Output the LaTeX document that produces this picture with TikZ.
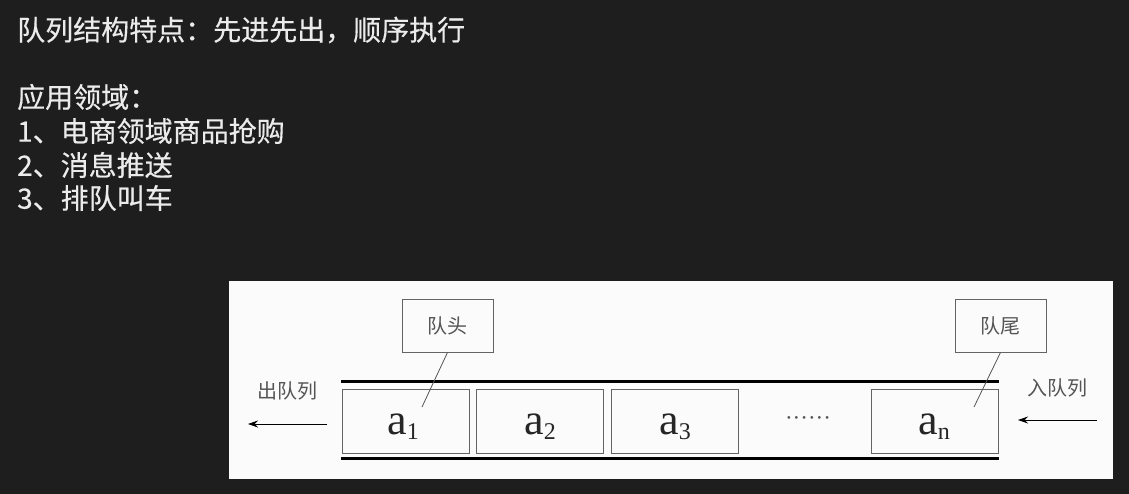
\documentclass[tikz,border=0pt]{standalone}
\usepackage{fontspec}
\newfontfamily\cjk{Noto Sans CJK SC}
\newfontfamily\cjkh[FakeBold=0.4]{Noto Sans CJK SC}
\newfontfamily\tms{Liberation Serif}
\usetikzlibrary{arrows.meta}
\definecolor{bgdark}{RGB}{30,30,30}
\definecolor{txtlight}{RGB}{235,235,235}
\definecolor{panel}{RGB}{251,251,251}
\definecolor{boxgray}{RGB}{100,100,100}
\definecolor{lblgray}{RGB}{85,85,85}
\tikzset{
  heading/.style={anchor=west,inner sep=0pt,text=txtlight,font=\cjkh\fontsize{28}{28}\selectfont},
  cell/.style={draw=boxgray,line width=1pt,minimum width=127pt,minimum height=64pt,inner sep=0pt},
  callout/.style={draw=boxgray,line width=0.9pt,minimum width=91pt,minimum height=53pt,inner sep=0pt,text=lblgray,font=\cjk\fontsize{20}{20}\selectfont},
  sidelbl/.style={inner sep=0pt,text=lblgray,font=\cjk\fontsize{20}{20}\selectfont},
  rail/.style={line width=3pt,black},
  leader/.style={draw=lblgray,line width=0.8pt},
  flow/.style={line width=0.9pt,black,-{Stealth[length=10pt,width=7pt]}},
  elem/.style={anchor=base,inner sep=0pt,text=black!85}
}
\newcommand{\elt}[1]{{\tms\fontsize{44}{44}\selectfont a}\raisebox{-5pt}{\tms\fontsize{24}{24}\selectfont #1}}
\begin{document}
\begin{tikzpicture}[x=1pt,y=-1pt]
\fill[bgdark] (0,0) rectangle (1129,494);
\useasboundingbox (0,0) rectangle (1129,494);
% heading text
\node[heading] (t1) at (17,30) {队列结构特点：先进先出，顺序执行};
\node[heading] (t2) at (17,97) {应用领域：};
\node[heading] (t3) at (17,131) {1、电商领域商品抢购};
\node[heading] (t4) at (17,165) {2、消息推送};
\node[heading] (t5) at (17,198) {3、排队叫车};
% panel
\fill[panel] (229,281) rectangle (1113,479);
% rails
\coordinate (rtl) at (341,381);
\coordinate (rtr) at (999,381);
\coordinate (rbl) at (341,458);
\coordinate (rbr) at (999,458);
\draw[rail] (rtl) -- (rtr);
\draw[rail] (rbl) -- (rbr);
% cells
\node[cell] (c1) at (405.5,421) {};
\node[cell] (c2) at (539.5,421) {};
\node[cell] (c3) at (674.5,421) {};
\node[cell] (cn) at (934.5,421) {};
\node[elem] (l1) at (403,434) {\elt{1}};
\node[elem] (l2) at (540,434) {\elt{2}};
\node[elem] (l3) at (675,434) {\elt{3}};
\node[elem] (ln) at (934,434) {\elt{n}};
\node[anchor=base,inner sep=0pt,text=lblgray,font=\tms\fontsize{23}{23}\selectfont] (dots) at (808,425) {\textperiodcentered\textperiodcentered\textperiodcentered\textperiodcentered\textperiodcentered\textperiodcentered};
% callouts
\node[callout] (head) at (447.5,325.5) {队头};
\node[callout] (tail) at (1000.5,325.5) {队尾};
\coordinate (hp) at (422,407);
\coordinate (tp) at (974,407);
\draw[leader] (head.south) -- (hp);
\draw[leader] (tail.south) -- (tp);
% side labels and arrows
\node[sidelbl] (out) at (287,391) {出队列};
\node[sidelbl] (in) at (1057,388) {入队列};
\coordinate (os) at (327,424);
\coordinate (oe) at (248,424);
\coordinate (is) at (1097,420);
\coordinate (ie) at (1018,420);
\draw[flow] (os) -- (oe);
\draw[flow] (is) -- (ie);
\end{tikzpicture}
\end{document}
